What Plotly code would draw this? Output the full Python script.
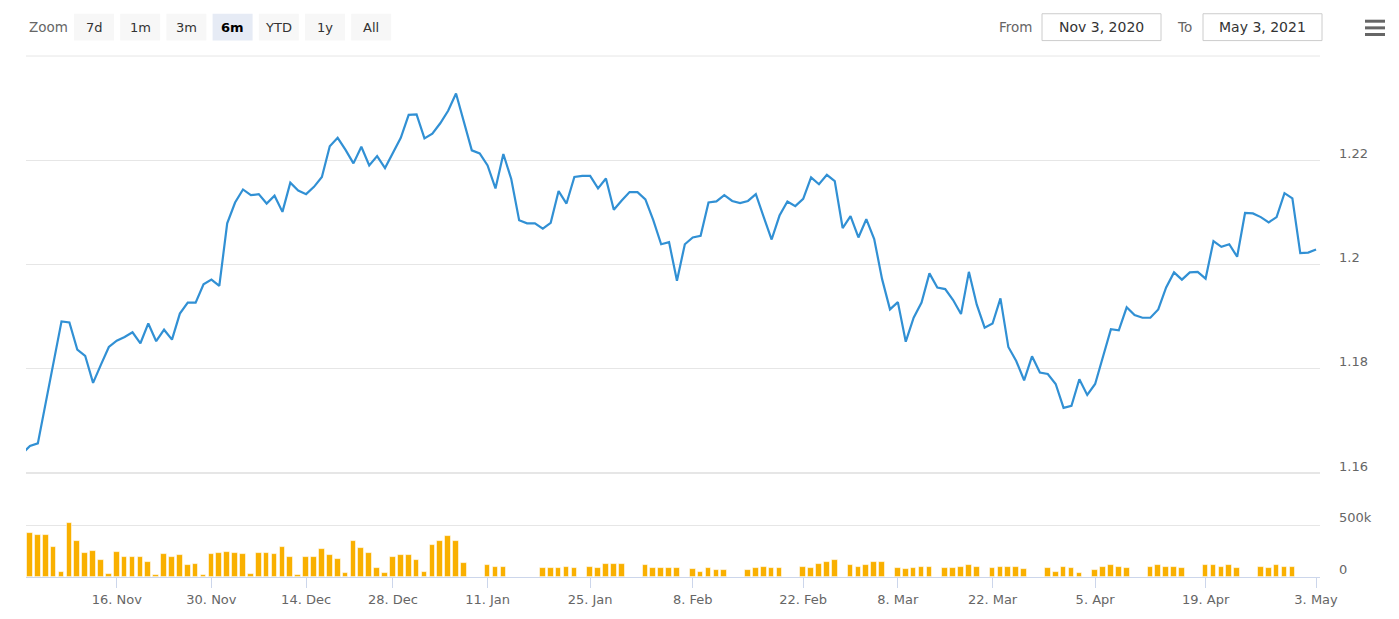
import plotly.graph_objects as go
import pandas as pd

# ordinal daily axis: every calendar day in the window except the ones with no data
first_day = '2020-11-02'
last_day = '2021-05-03'
missing_days = ['2020-11-07', '2020-11-14', '2020-11-21', '2020-11-28',
                '2020-12-05', '2020-12-12', '2020-12-19', '2020-12-25', '2020-12-26',
                '2021-01-02', '2021-01-09', '2021-01-23', '2021-02-06', '2021-02-27',
                '2021-03-06', '2021-03-13', '2021-03-20', '2021-04-03']

price = [
    1.1637, 1.1652, 1.1657, 1.1735, 1.1814, 1.1891, 1.1889, 1.1837, 1.1825, 1.1773,
    1.1808, 1.1842, 1.1854, 1.1861, 1.1870, 1.1849, 1.1887, 1.1853, 1.1875, 1.1856,
    1.1906, 1.1927, 1.1927, 1.1962, 1.1971, 1.1959, 1.2079, 1.2119, 1.2144, 1.2133,
    1.2135, 1.2117, 1.2132, 1.2101, 1.2157, 1.2142, 1.2135, 1.2149, 1.2168, 1.2227,
    1.2243, 1.2220, 1.2194, 1.2226, 1.2190, 1.2208, 1.2185, 1.2213, 1.2243, 1.2287,
    1.2288, 1.2242, 1.2251, 1.2271, 1.2295, 1.2328, 1.2273, 1.2219, 1.2213, 1.2190,
    1.2146, 1.2212, 1.2164, 1.2085, 1.2079, 1.2079, 1.2069, 1.2080, 1.2141, 1.2117,
    1.2168, 1.2170, 1.2170, 1.2146, 1.2165, 1.2105, 1.2123, 1.2139, 1.2139, 1.2125,
    1.2085, 1.2039, 1.2043, 1.1969, 1.2039, 1.2052, 1.2055, 1.2119, 1.2121, 1.2133,
    1.2122, 1.2118, 1.2122, 1.2135, 1.2091, 1.2048, 1.2094, 1.2121, 1.2112, 1.2126,
    1.2167, 1.2154, 1.2172, 1.2160, 1.2070, 1.2093, 1.2052, 1.2087, 1.2049, 1.1972,
    1.1914, 1.1928, 1.1852, 1.1898, 1.1927, 1.1983, 1.1956, 1.1953, 1.1932, 1.1905,
    1.1986, 1.1923, 1.1879, 1.1887, 1.1935, 1.1842, 1.1815, 1.1778, 1.1824, 1.1793,
    1.1790, 1.1771, 1.1725, 1.1729, 1.1780, 1.1750, 1.1771, 1.1822, 1.1876, 1.1874,
    1.1918, 1.1903, 1.1898, 1.1898, 1.1914, 1.1956, 1.1985, 1.1971, 1.1985, 1.1986,
    1.1973, 1.2045, 1.2034, 1.2039, 1.2015, 1.2099, 1.2098, 1.2091, 1.2081, 1.2091,
    1.2137, 1.2127, 1.2022, 1.2023, 1.2029,
]

# volume in thousands, None where the bar is absent
volume_k = [
    None, 420, 408, 408, 290, 48, 516, 350, 229, 245,
    159, 25, 242, 194, 194, 194, 147, 16, 220, 194,
    207, 111, 121, 16, 217, 226, 242, 229, 217, 25,
    229, 229, 217, 290, 194, 16, 194, 194, 268, 207,
    172, 38, 341, 277, 229, 86, 38, 194, 207, 207,
    159, 51, 303, 341, 398, 341, 134, None, None, 111,
    99, 99, None, None, None, None, 86, 86, 86, 99,
    86, None, 99, 86, 124, 124, 124, None, None, 111,
    86, 86, 86, 86, None, 76, 51, 86, 64, 64,
    None, None, 64, 86, 99, 86, 86, None, None, 99,
    86, 124, 147, 159, None, 111, 99, 111, 147, 147,
    None, 86, 76, 86, 99, 99, None, 86, 86, 99,
    111, 99, None, 86, 99, 99, 99, 76, None, None,
    86, 51, 99, 86, 38, None, 64, 99, 111, 99,
    86, None, None, 99, 111, 99, 99, 86, None, None,
    111, 111, 99, 111, 86, None, None, 99, 86, 111,
    99, 99, None, None, None,
]

tick_dates = ['2020-11-16', '2020-11-30', '2020-12-14', '2020-12-28', '2021-01-11',
              '2021-01-25', '2021-02-08', '2021-02-22', '2021-03-08', '2021-03-22',
              '2021-04-05', '2021-04-19', '2021-05-03']
tick_labels = ['16. Nov', '30. Nov', '14. Dec', '28. Dec', '11. Jan', '25. Jan', '8. Feb',
               '22. Feb', '8. Mar', '22. Mar', '5. Apr', '19. Apr', '3. May']

price_ticks = [1.16, 1.18, 1.2, 1.22, 1.24]
price_labels = ['1.16', '1.18', '1.2', '1.22', '']
volume_ticks = [0, 500, 1000]
volume_labels = ['0', '500k', '']

zoom_buttons = ['7d', '1m', '3m', '6m', 'YTD', '1y', 'All']
selected_button = '6m'
range_from = 'Nov 3, 2020'
range_to = 'May 3, 2021'

missing = set(pd.to_datetime(missing_days))
dates = [d.strftime('%Y-%m-%d') for d in pd.date_range(first_day, last_day) if d not in missing]

W, H = 1399, 619
L, R, T, B = 26, 1320, 56, 580
PANE_SPLIT = 475.5
LINE = '#3190d4'
BAR = '#f9b000'
GRID = '#e6e6e6'
FONT = 'DejaVu Sans'


def px(x):
    return (x - L) / (R - L)


def py(y):
    return (B - y) / (B - T)


fig = go.Figure()
fig.add_trace(go.Scatter(x=dates, y=price, mode='lines', xaxis='x', yaxis='y',
                         line=dict(color=LINE, width=2.2), name='Price'))
fig.add_trace(go.Bar(x=dates, y=volume_k, xaxis='x', yaxis='y2', width=0.72,
                     marker=dict(color=BAR, line=dict(color='rgba(255,255,255,0.55)', width=1)),
                     name='Volume'))

shapes = []
annotations = []

# gridlines sitting on the pane edges (top of price pane, pane divider)
shapes.append(dict(type='line', xref='paper', yref='paper', x0=0, x1=1, y0=1, y1=1,
                   layer='below', line=dict(color=GRID, width=1)))
shapes.append(dict(type='line', xref='paper', yref='paper', x0=0, x1=1,
                   y0=py(PANE_SPLIT), y1=py(PANE_SPLIT), layer='below',
                   line=dict(color=GRID, width=2)))

# range selector
annotations.append(dict(x=px(27), y=py(27), xref='paper', yref='paper', text='Zoom',
                        showarrow=False, xanchor='left', yanchor='middle',
                        font=dict(family=FONT, size=13.5, color='#666666')))
for i, label in enumerate(zoom_buttons):
    x0 = 74 + i * 46.2
    on = label == selected_button
    shapes.append(dict(type='rect', xref='paper', yref='paper', x0=px(x0), x1=px(x0 + 40),
                       y0=py(40.5), y1=py(13.5), line=dict(width=0),
                       fillcolor='#e6ebf5' if on else '#f7f7f7'))
    annotations.append(dict(x=px(x0 + 20), y=py(27), xref='paper', yref='paper',
                            text='<b>%s</b>' % label if on else label, showarrow=False,
                            xanchor='center', yanchor='middle',
                            font=dict(family=FONT, size=13, color='#000000' if on else '#333333')))

# from / to inputs
for lab, lx, bx0, bx1, txt in [('From', 997, 1042, 1161, range_from),
                               ('To', 1175, 1203, 1322, range_to)]:
    annotations.append(dict(x=px(lx), y=py(27), xref='paper', yref='paper', text=lab,
                            showarrow=False, xanchor='left', yanchor='middle',
                            font=dict(family=FONT, size=13.5, color='#666666')))
    shapes.append(dict(type='rect', xref='paper', yref='paper', x0=px(bx0), x1=px(bx1),
                       y0=py(40.5), y1=py(13.5), line=dict(color='#cccccc', width=1),
                       fillcolor='white'))
    annotations.append(dict(x=px((bx0 + bx1) / 2), y=py(27), xref='paper', yref='paper',
                            text=txt, showarrow=False, xanchor='center', yanchor='middle',
                            font=dict(family=FONT, size=14, color='#333333')))

# export menu icon
for yy in (21, 27.7, 34.4):
    shapes.append(dict(type='line', xref='paper', yref='paper', x0=px(1365), x1=px(1385),
                       y0=py(yy), y1=py(yy), line=dict(color='#666666', width=3)))

split = py(PANE_SPLIT)
fig.update_layout(
    width=W, height=H,
    margin=dict(l=L, r=W - R, t=T, b=H - B, pad=0),
    paper_bgcolor='white', plot_bgcolor='white',
    showlegend=False,
    font=dict(family=FONT, size=13, color='#666666'),
    hovermode='x',
    bargap=0,
    xaxis=dict(type='category', anchor='y2', range=[0.5, len(dates) - 0.5],
               tickmode='array', tickvals=tick_dates, ticktext=tick_labels,
               ticks='outside', ticklen=10, tickwidth=1, tickcolor='#ccd6eb',
               showline=True, linecolor='#ccd6eb', linewidth=1,
               showgrid=False, zeroline=False, fixedrange=True,
               tickfont=dict(family=FONT, size=13, color='#666666')),
    yaxis=dict(domain=[split, 1], range=[1.16, 1.24], side='right', anchor='x',
               tickmode='array', tickvals=price_ticks, ticktext=price_labels,
               showgrid=True, gridcolor=GRID, gridwidth=1, zeroline=False,
               ticks='', ticklabelstandoff=18, ticklabelshift=-7,
               tickfont=dict(family=FONT, size=13, color='#666666')),
    yaxis2=dict(domain=[0, split], range=[0, 1000], side='right', anchor='x',
                tickmode='array', tickvals=volume_ticks, ticktext=volume_labels,
                showgrid=True, gridcolor=GRID, gridwidth=1, zeroline=False,
                ticks='', ticklabelstandoff=18, ticklabelshift=-8,
                tickfont=dict(family=FONT, size=13, color='#666666')),
    shapes=shapes,
    annotations=annotations,
)

fig.write_html('out.html', config={'displayModeBar': False},
               post_script="document.body.style.margin='0px';")
